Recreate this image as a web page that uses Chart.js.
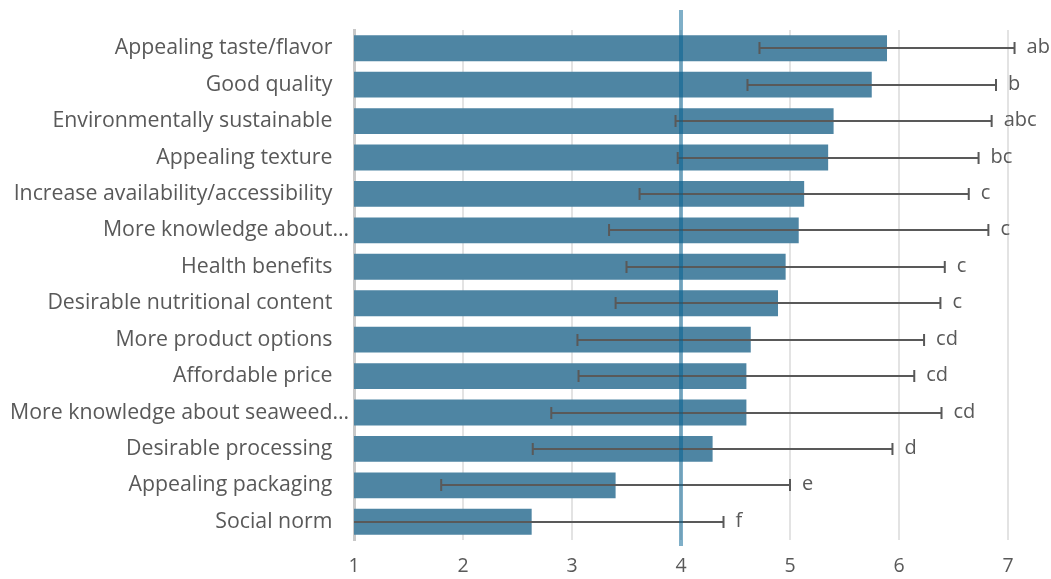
<!DOCTYPE html>
<html>
<head>
<meta charset="utf-8">
<script src="https://cdn.jsdelivr.net/npm/chart.js@4.4.1/dist/chart.umd.min.js"></script>
<style>
  html, body { margin: 0; padding: 0; background: #fff; }
  #wrap { width: 1051px; height: 579px; }
</style>
</head>
<body>
<div id="wrap"><canvas id="chart"></canvas></div>
<script>
// data
let categories = [
    "Appealing taste/flavor",
    "Good quality",
    "Environmentally sustainable",
    "Appealing texture",
    "Increase availability/accessibility",
    "More knowledge about…",
    "Health benefits",
    "Desirable nutritional content",
    "More product options",
    "Affordable price",
    "More knowledge about seaweed…",
    "Desirable processing",
    "Appealing packaging",
    "Social norm"
];
let means = [5.89, 5.75, 5.40, 5.35, 5.13, 5.08, 4.96, 4.89, 4.64, 4.60, 4.60, 4.29, 3.40, 2.63];
let sds = [1.17, 1.14, 1.45, 1.38, 1.51, 1.74, 1.46, 1.49, 1.59, 1.54, 1.79, 1.65, 1.60, 1.76];
let letters = ["ab", "b", "abc", "bc", "c", "c", "c", "c", "cd", "cd", "cd", "d", "e", "f"];
let xTicks = [1, 2, 3, 4, 5, 6, 7];
let refValue = 4;

let textColor = "#595959";
let fontFamily = "'Open Sans', sans-serif";

// error bars + letters
let errorBars = {
    id: "errorBars",
    afterDatasetsDraw(chart) {
        let ctx = chart.ctx;
        let x = chart.scales.x;
        let meta = chart.getDatasetMeta(0);
        let area = chart.chartArea;
        ctx.save();
        ctx.strokeStyle = "#595959";
        ctx.lineWidth = 2;
        ctx.fillStyle = textColor;
        ctx.font = "20px " + fontFamily;
        ctx.textBaseline = "middle";
        meta.data.forEach((bar, i) => {
            let lo = means[i] - sds[i];
            let hi = means[i] + sds[i];
            let y = Math.round(bar.y);
            let xl = x.getPixelForValue(lo);
            let xh = x.getPixelForValue(hi);
            ctx.beginPath();
            ctx.moveTo(Math.max(xl, area.left), y);
            ctx.lineTo(xh, y);
            if (xl >= area.left) {
                ctx.moveTo(xl, y - 6);
                ctx.lineTo(xl, y + 6);
            }
            ctx.moveTo(xh, y - 6);
            ctx.lineTo(xh, y + 6);
            ctx.stroke();
            ctx.textAlign = "left";
            ctx.fillText(letters[i], xh + 12, y - 1);
        });
        // reference line
        let xr = x.getPixelForValue(refValue);
        ctx.strokeStyle = "rgba(0, 95, 145, 0.5)";
        ctx.lineWidth = 4;
        ctx.beginPath();
        ctx.moveTo(xr, 10);
        ctx.lineTo(xr, area.bottom + 6);
        ctx.stroke();
        ctx.restore();
    }
};

function renderChart() {
    let ctx = document.getElementById("chart").getContext("2d");
    new Chart(ctx, {
        type: "bar",
        data: {
            labels: categories,
            datasets: [{
                data: means,
                backgroundColor: "#4e85a3",
                borderWidth: 0,
                barPercentage: 0.71,
                categoryPercentage: 1
            }]
        },
        options: {
            indexAxis: "y",
            responsive: true,
            maintainAspectRatio: false,
            animation: false,
            layout: { padding: { top: 30, right: 43, left: 0, bottom: 0 } },
            plugins: {
                legend: { display: false },
                tooltip: { enabled: false }
            },
            scales: {
                x: {
                    min: 1,
                    max: 7,
                    afterBuildTicks(scale) {
                        scale.ticks = xTicks.map(v => ({ value: v }));
                    },
                    afterFit(scale) { scale.height = 39; },
                    grid: { color: "#e3e3e3", lineWidth: 2, drawTicks: false },
                    border: { display: false },
                    ticks: {
                        color: textColor,
                        font: { family: fontFamily, size: 19.5 },
                        padding: 15
                    }
                },
                y: {
                    afterFit(scale) { scale.width = 354; },
                    grid: { display: false },
                    border: { color: "#c8c8c8", width: 3 },
                    ticks: {
                        color: textColor,
                        font: { family: fontFamily, size: 21.3 },
                        padding: -3,
                        autoSkip: false,
                        callback(value) {
                            let label = categories[value];
                            return label.endsWith("…") ? label : label + "   ";
                        }
                    }
                }
            }
        },
        plugins: [errorBars]
    });
}

document.addEventListener("DOMContentLoaded", renderChart);
</script>
</body>
</html>
